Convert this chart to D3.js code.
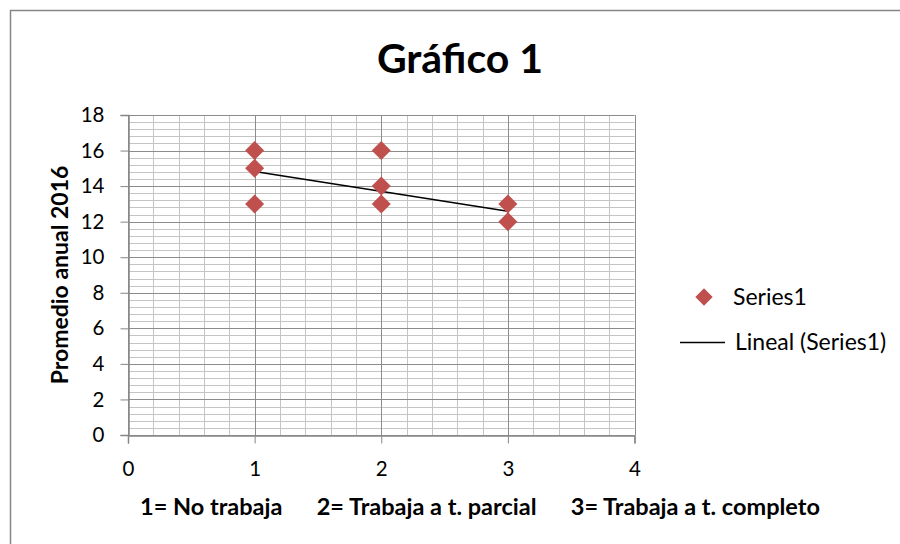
<!DOCTYPE html>
<html>
<head>
<meta charset="utf-8">
<script src="https://cdn.jsdelivr.net/npm/d3@7"></script>
<style>
  body { margin: 0; background: #fff; }
  text { font-family: Lato, "Open Sans", sans-serif; fill: #000; }
</style>
</head>
<body>
<div id="container"></div>
<script>
/* DATA */
const pointX = [1, 1, 1, 2, 2, 2, 3, 3];
const pointY = [16, 15, 13, 16, 14, 13, 13, 12];
const trendX = [1, 3];
const trendY = [14.82, 12.58];
const xTicks = [0, 1, 2, 3, 4];
const yTicks = [0, 2, 4, 6, 8, 10, 12, 14, 16, 18];
const title = "Gráfico 1";
const yTitle = "Promedio anual 2016";
const xTitle = "1= No trabaja      2= Trabaja a t. parcial      3= Trabaja a t. completo";
const legendLabels = ["Series1", "Lineal (Series1)"];

/* CONSTANTS */
const width = 900, height = 544;
const margin = { top: 115, left: 128, right: 265.5, bottom: 109 };
const red = "#c0504d";

const svg = d3.select("#container").append("svg")
  .attr("width", width)
  .attr("height", height);

// chart border
svg.append("rect")
  .attr("x", 10.5).attr("y", 10.5)
  .attr("width", 920).attr("height", 560)
  .attr("fill", "#fff")
  .attr("stroke", "#868686")
  .attr("stroke-width", 1.5);

// SCALES
const xScale = d3.scaleLinear()
  .domain([0, 4])
  .range([margin.left, width - margin.right]);

const yScale = d3.scaleLinear()
  .domain([0, 18])
  .range([height - margin.bottom, margin.top]);

// GRID minor
const minorX = d3.range(0, 4.0001, 0.2);
const minorY = d3.range(0, 18.0001, 0.4);

svg.append("g").selectAll("line")
  .data(minorY)
  .join("line")
  .attr("x1", xScale(0)).attr("x2", xScale(4))
  .attr("y1", d => Math.round(yScale(d)) + 0.5)
  .attr("y2", d => Math.round(yScale(d)) + 0.5)
  .attr("stroke", "#c4c4c4");

svg.append("g").selectAll("line")
  .data(minorX)
  .join("line")
  .attr("y1", yScale(0)).attr("y2", yScale(18))
  .attr("x1", d => Math.round(xScale(d)) + 0.5)
  .attr("x2", d => Math.round(xScale(d)) + 0.5)
  .attr("stroke", "#c4c4c4");

// GRID major
svg.append("g").selectAll("line")
  .data(yTicks)
  .join("line")
  .attr("x1", xScale(0)).attr("x2", xScale(4))
  .attr("y1", d => Math.round(yScale(d)) + 0.5)
  .attr("y2", d => Math.round(yScale(d)) + 0.5)
  .attr("stroke", "#8c8c8c");

svg.append("g").selectAll("line")
  .data(xTicks)
  .join("line")
  .attr("y1", yScale(0)).attr("y2", yScale(18))
  .attr("x1", d => Math.round(xScale(d)) + 0.5)
  .attr("x2", d => Math.round(xScale(d)) + 0.5)
  .attr("stroke", "#8c8c8c");

// AXES
const xAxis = d3.axisBottom(xScale)
  .tickValues(xTicks)
  .tickSize(8)
  .tickPadding(18)
  .tickFormat(d3.format("d"));

const gx = svg.append("g")
  .attr("transform", `translate(0,${Math.round(yScale(0)) + 0.5})`)
  .call(xAxis);

const yAxis = d3.axisLeft(yScale)
  .tickValues(yTicks)
  .tickSize(8)
  .tickPadding(16)
  .tickFormat(d3.format("d"));

const gy = svg.append("g")
  .attr("transform", `translate(${Math.round(xScale(0)) + 0.5},0)`)
  .call(yAxis);

[gx, gy].forEach(g => {
  g.select(".domain").attr("stroke", "#868686").attr("stroke-width", 1.5);
  g.selectAll(".tick line").attr("stroke", "#868686");
  g.selectAll(".tick text")
    .style("font-size", "20.5px")
    .style("font-family", "Lato, sans-serif")
    .attr("fill", "#000");
});

// TREND LINE
const lineGen = d3.line()
  .x(d => xScale(d[0]))
  .y(d => yScale(d[1]));

svg.append("path")
  .datum(trendX.map((x, i) => [x, trendY[i]]))
  .attr("d", lineGen)
  .attr("fill", "none")
  .attr("stroke", "#000")
  .attr("stroke-width", 1.5);

// POINTS
const diamond = d3.symbol().type(d3.symbolSquare).size(180);

svg.append("g").selectAll("path")
  .data(pointX.map((x, i) => ({ x, y: pointY[i] })))
  .join("path")
  .attr("d", diamond)
  .attr("transform", d => `translate(${xScale(d.x)},${yScale(d.y)}) rotate(45)`)
  .attr("fill", red);

// TITLES
svg.append("text")
  .attr("x", 460)
  .attr("y", 73)
  .attr("text-anchor", "middle")
  .style("font-size", "41px")
  .style("font-weight", "bold")
  .text(title);

svg.append("text")
  .attr("transform", `translate(68,${yScale(9)}) rotate(-90)`)
  .attr("text-anchor", "middle")
  .style("font-size", "23px")
  .style("font-weight", "bold")
  .text(yTitle);

svg.append("text")
  .attr("x", 480)
  .attr("y", 515)
  .attr("text-anchor", "middle")
  .attr("xml:space", "preserve")
  .style("white-space", "pre")
  .style("font-size", "23.5px")
  .style("font-weight", "bold")
  .text(xTitle);

// LEGEND
const legend = svg.append("g");

legend.append("path")
  .attr("d", d3.symbol().type(d3.symbolSquare).size(150))
  .attr("transform", "translate(704,297) rotate(45)")
  .attr("fill", red);

legend.append("text")
  .attr("x", 733).attr("y", 297)
  .attr("dy", "0.35em")
  .style("font-size", "23px")
  .text(legendLabels[0]);

legend.append("line")
  .attr("x1", 680).attr("x2", 725)
  .attr("y1", 342.5).attr("y2", 342.5)
  .attr("stroke", "#000")
  .attr("stroke-width", 1.5);

legend.append("text")
  .attr("x", 735).attr("y", 342)
  .attr("dy", "0.35em")
  .style("font-size", "23px")
  .text(legendLabels[1]);
</script>
</body>
</html>
